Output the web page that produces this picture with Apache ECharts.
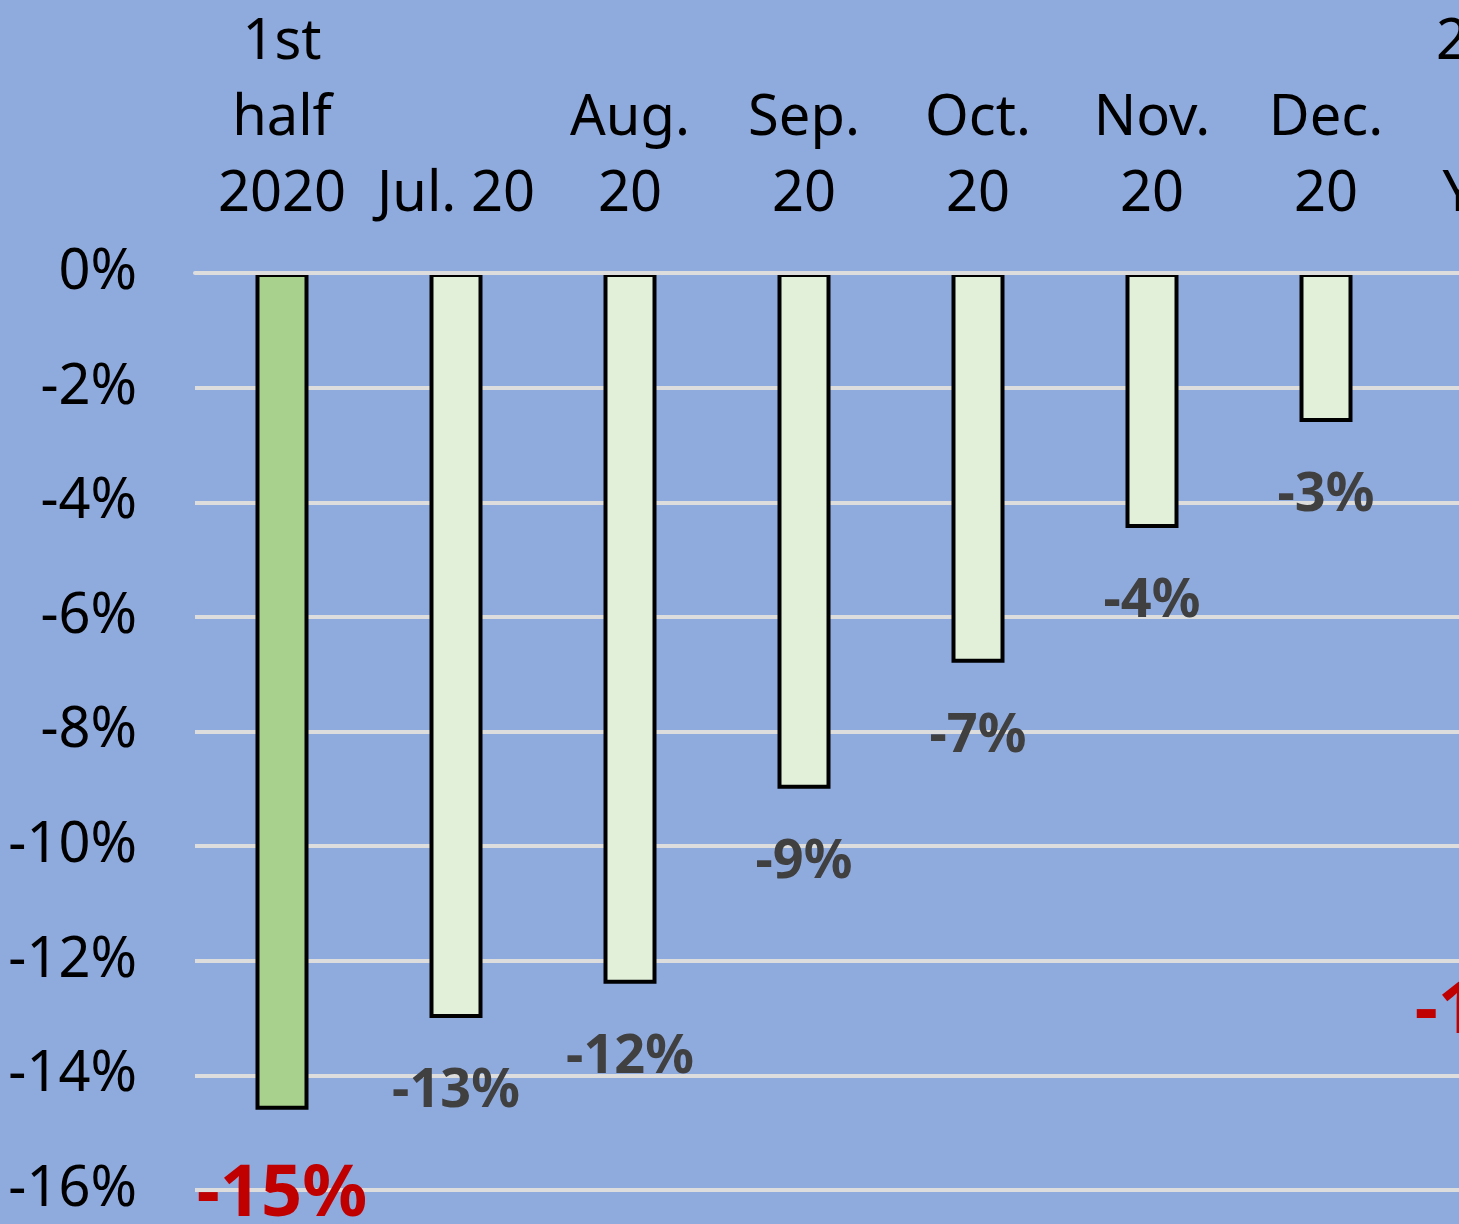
<!DOCTYPE html>
<html>
<head>
<meta charset="utf-8">
<script src="https://cdn.jsdelivr.net/npm/echarts@6/dist/echarts.min.js"></script>
<style>
  html, body { margin: 0; padding: 0; background: #8FAADC; }
  #chart { width: 1459px; height: 1224px; }
</style>
</head>
<body>
<div id="chart"></div>
<script>
// periods shown on the top axis
var categories = ['1st\nhalf\n2020', 'Jul. 20', 'Aug.\n20', 'Sep.\n20', 'Oct.\n20', 'Nov.\n20', 'Dec.\n20', '2020\nFull\nYear'];
// change vs previous year, in %
var changes = [-14.6, -13.0, -12.4, -9.0, -6.8, -4.45, -2.6, -11.4];
// summary periods (drawn darker, red label)
var summaryIdx = [0, 7];

(function(){
	var chart = echarts.init(document.getElementById('chart'));

	var seriesData = changes.map(function(v, i){
		var isSum = summaryIdx.indexOf(i) >= 0;
		return {
			value: v,
			itemStyle: { color: isSum ? '#A9D18E' : '#E2F0D9' },
			label: isSum ? { color: '#C00000', fontSize: 72, distance: 50 } : {}
		};
	});

	var option = {
		backgroundColor: '#8FAADC',
		animation: false,
		textStyle: { fontFamily: 'Noto Sans' },
		grid: {
			left: 195,
			right: -128,
			top: 273,
			bottom: 34,
			containLabel: false,
			outerBoundsMode: 'none'
		},
		xAxis: {
			type: 'category',
			position: 'top',
			data: categories,
			z: 5,
			axisLine: { show: true, lineStyle: { color: '#DDDDDD', width: 4 } },
			axisTick: { show: false },
			axisLabel: {
				color: '#000',
				fontSize: 56,
				lineHeight: 76,
				margin: 40,
				interval: 0
			}
		},
		yAxis: {
			type: 'value',
			min: -16,
			max: 0,
			interval: 2,
			axisLine: { show: false },
			axisTick: { show: false },
			splitLine: { lineStyle: { color: '#DDDDDD', width: 4 } },
			axisLabel: {
				color: '#000',
				fontSize: 56,
				margin: 58,
				formatter: function(v){ return v + '%'; }
			}
		},
		series: [{
			type: 'bar',
			barWidth: 53,
			data: seriesData,
			itemStyle: { borderColor: '#000', borderWidth: 4 },
			label: {
				show: true,
				position: 'bottom',
				distance: 47,
				color: '#404040',
				fontWeight: 'bold',
				fontSize: 54,
				formatter: function(p){ return Math.round(p.value) + '%'; }
			}
		}]
	};

	chart.setOption(option);
})();
</script>
</body>
</html>
